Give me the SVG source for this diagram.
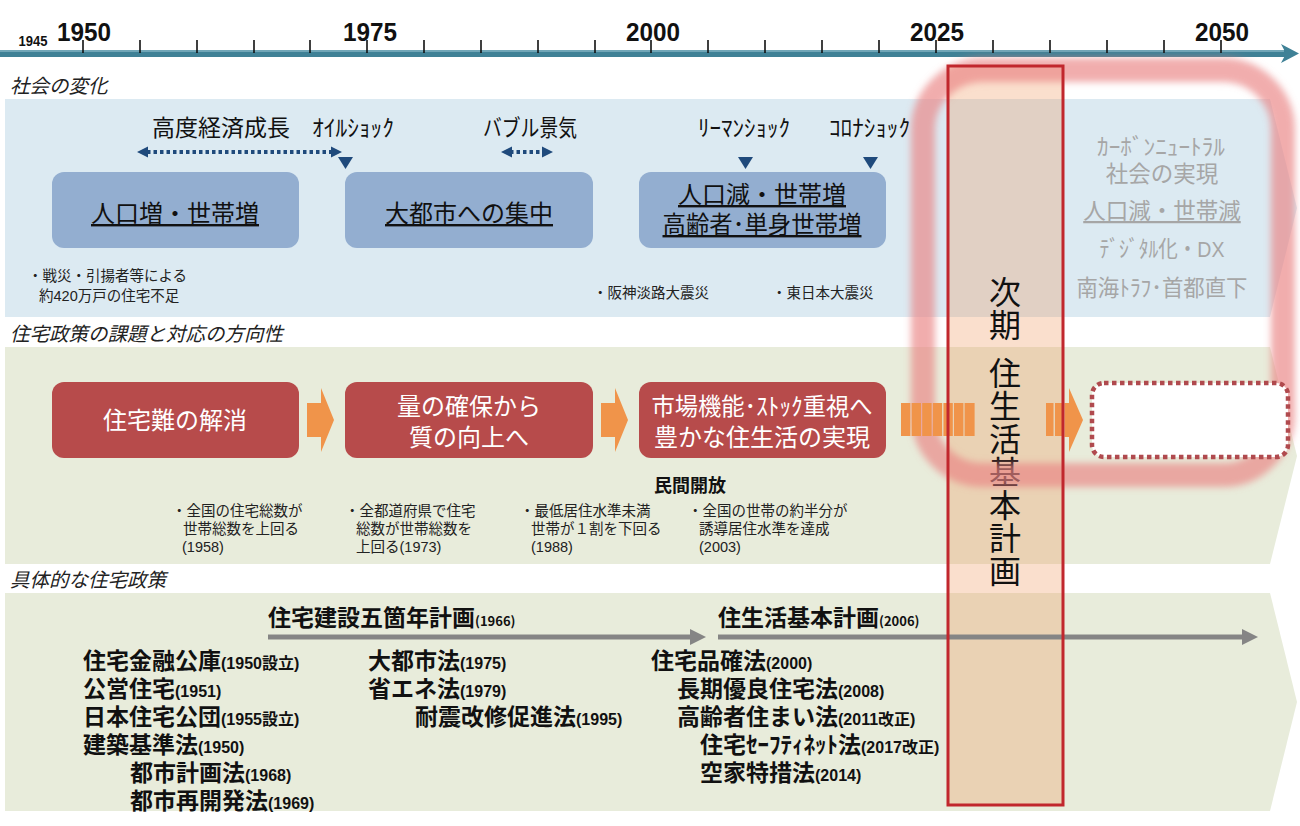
<svg xmlns="http://www.w3.org/2000/svg" width="1300" height="826" viewBox="0 0 1300 826">
<defs>
<style>
.jp{font-family:'Noto Sans CJK JP','Noto Sans',sans-serif;}
.lj{font-family:'Liberation Sans','Noto Sans CJK JP',sans-serif;}
.yr{font-family:'Liberation Sans',Arial,sans-serif;font-weight:700;fill:#111;text-anchor:middle;}
.sec{font-size:19.5px;font-style:italic;fill:#222;}
.boxb{fill:#93aed0;}
.boxr{fill:#b74b4b;}
.bt{font-size:24px;fill:#111;text-anchor:middle;text-decoration:underline;}
.wt{font-size:24px;fill:#fff;text-anchor:middle;}
.ev{font-size:23px;fill:#111;}
.note{font-size:14.5px;fill:#222;}
.fut{font-size:22.5px;fill:#a6a6a6;text-anchor:middle;}
.pol{font-size:23px;font-weight:700;fill:#111;}
.ys{font-size:16px;}
.vt{font-size:32px;fill:#111;writing-mode:vertical-rl;letter-spacing:1px;}
.navy{fill:#1f4a7c;}
.or{fill:#f0944a;}
.gray{fill:#858585;}
</style>
<filter id="blur" x="-10%" y="-10%" width="120%" height="120%"><feGaussianBlur stdDeviation="3.5"/></filter>
</defs>
<rect x="0" y="0" width="1300" height="826" fill="#ffffff"/>

<g id="axis">
<rect x="0" y="50" width="1286" height="7" fill="#3f8196"/>
<line x1="0" y1="51" x2="1284" y2="51" stroke="#a4cbd8" stroke-width="1.2"/>
<path d="M1281,44 L1299,53.5 L1281,63 L1286,53.5 Z" fill="#3f8196"/>
<path d="M83,40V53 M140,40V53 M197,40V53 M254,40V53 M310,40V53 M367,40V53 M424,40V53 M481,40V53 M538,40V53 M595,40V53 M651,40V53 M708,40V53 M765,40V53 M822,40V53 M879,40V53 M936,40V53 M993,40V53 M1050,40V53 M1107,40V53 M1164,40V53 M1221,40V53" stroke="#111" stroke-width="1.6" fill="none"/>
<text class="yr" x="33" y="46" font-size="14.5" textLength="29" lengthAdjust="spacingAndGlyphs">1945</text>
<text class="yr" x="84" y="41" font-size="26" textLength="54" lengthAdjust="spacingAndGlyphs">1950</text>
<text class="yr" x="370" y="41" font-size="26" textLength="54" lengthAdjust="spacingAndGlyphs">1975</text>
<text class="yr" x="653" y="41" font-size="26" textLength="54" lengthAdjust="spacingAndGlyphs">2000</text>
<text class="yr" x="937" y="41" font-size="26" textLength="54" lengthAdjust="spacingAndGlyphs">2025</text>
<text class="yr" x="1222" y="41" font-size="26" textLength="54" lengthAdjust="spacingAndGlyphs">2050</text>
</g>

<g id="bands">
<polygon points="5,99 1270,99 1297,208 1270,317 5,317" fill="#dceaf2"/>
<polygon points="5,347 1270,347 1297,456 1270,564 5,564" fill="#e8ecdb"/>
<polygon points="5,593 1270,593 1297,702 1270,811 5,811" fill="#e8ecdb"/>
<text class="jp sec" x="10" y="93">社会の変化</text>
<text class="jp sec" x="10" y="341">住宅政策の課題と対応の方向性</text>
<text class="jp sec" x="10" y="587">具体的な住宅政策</text>
</g>

<g id="next-plan-fill">
<rect x="948" y="66" width="115" height="739" fill="rgb(240,150,90)" fill-opacity="0.3"/>
<text class="jp vt" x="1005" y="276">次期</text>
<text class="jp vt" x="1005" y="357">住生活基本計画</text>
</g>

<g id="focus-glow">
<rect x="923" y="70" width="360" height="405" rx="60" fill="none" stroke="#e98282" stroke-opacity="0.66" stroke-width="24" filter="url(#blur)"/>
</g>

<g id="social">
<text class="jp ev" x="152" y="136">高度経済成長</text>
<text class="jp ev" x="312" y="136" textLength="82" lengthAdjust="spacingAndGlyphs">ｵｲﾙｼｮｯｸ</text>
<text class="jp ev" x="483" y="136" textLength="94" lengthAdjust="spacingAndGlyphs">バブル景気</text>
<text class="jp ev" x="698" y="136" textLength="92" lengthAdjust="spacingAndGlyphs">ﾘｰﾏﾝｼｮｯｸ</text>
<text class="jp ev" x="829" y="136" textLength="81" lengthAdjust="spacingAndGlyphs">ｺﾛﾅｼｮｯｸ</text>
<polygon class="navy" points="338,157 353,157 345.5,169"/>
<polygon class="navy" points="738,157 753,157 745.5,169"/>
<polygon class="navy" points="863,157 878,157 870.5,169"/>
</g>

<g id="node-pop-increase">
<rect class="boxb" x="52" y="172" width="247" height="76" rx="12"/>
<text class="jp bt" x="175" y="222">人口増・世帯増</text>
</g>
<g id="node-city-concentration">
<rect class="boxb" x="345" y="172" width="248" height="76" rx="12"/>
<text class="jp bt" x="469" y="222">大都市への集中</text>
</g>
<g id="node-pop-decrease">
<rect class="boxb" x="639" y="172" width="247" height="76" rx="12"/>
<text class="lj bt" x="762" y="203">人口減・世帯増</text>
<text class="lj bt" x="762" y="233" textLength="199" lengthAdjust="spacingAndGlyphs">高齢者･単身世帯増</text>
</g>

<g id="social-notes">
<text class="lj note" x="28" y="281">・戦災・引揚者等による</text>
<text class="lj note" x="39" y="301">約420万戸の住宅不足</text>
<text class="jp note" x="593" y="298" font-size="15">・阪神淡路大震災</text>
<text class="jp note" x="772" y="298" font-size="15">・東日本大震災</text>
</g>

<g id="future-social">
<text class="lj fut" x="1161" y="155" textLength="128" lengthAdjust="spacingAndGlyphs">ｶｰﾎﾞﾝﾆｭｰﾄﾗﾙ</text>
<text class="lj fut" x="1162" y="182">社会の実現</text>
<text class="lj fut" x="1162" y="219" text-decoration="underline">人口減・世帯減</text>
<text class="lj fut" x="1162" y="257" textLength="125" lengthAdjust="spacingAndGlyphs">ﾃﾞｼﾞﾀﾙ化・DX</text>
<text class="lj fut" x="1162" y="296" textLength="171" lengthAdjust="spacingAndGlyphs">南海ﾄﾗﾌ･首都直下</text>
</g>

<g id="node-housing-shortage">
<rect class="boxr" x="52" y="382" width="247" height="76" rx="12"/>
<text class="jp wt" x="175" y="429">住宅難の解消</text>
</g>
<g id="node-quality">
<rect class="boxr" x="345" y="382" width="248" height="76" rx="12"/>
<text class="lj wt" x="469" y="415">量の確保から</text>
<text class="lj wt" x="469" y="446">質の向上へ</text>
</g>
<g id="node-market">
<rect class="boxr" x="639" y="382" width="247" height="76" rx="12"/>
<text class="lj wt" x="762" y="415" textLength="221" lengthAdjust="spacingAndGlyphs">市場機能･ｽﾄｯｸ重視へ</text>
<text class="lj wt" x="762" y="446">豊かな住生活の実現</text>
</g>
<g id="node-next">
<rect x="1092" y="383" width="196" height="74" rx="12" fill="#ffffff" stroke="#b04a4e" stroke-width="4.5" stroke-dasharray="4.5 3.5"/>
</g>

<g id="policy-notes">
<text class="jp" x="690" y="492" font-size="18" font-weight="700" fill="#111" text-anchor="middle">民間開放</text>
<text class="lj note"><tspan x="172" y="516">・全国の住宅総数が</tspan><tspan x="183" y="534">世帯総数を上回る</tspan><tspan x="182" y="552">(1958)</tspan></text>
<text class="lj note"><tspan x="345" y="516">・全都道府県で住宅</tspan><tspan x="356" y="534">総数が世帯総数を</tspan><tspan x="356" y="552">上回る(1973)</tspan></text>
<text class="lj note"><tspan x="520" y="516">・最低居住水準未満</tspan><tspan x="531" y="534">世帯が１割を下回る</tspan><tspan x="531" y="552">(1988)</tspan></text>
<text class="lj note"><tspan x="688" y="516">・全国の世帯の約半分が</tspan><tspan x="699" y="534">誘導居住水準を達成</tspan><tspan x="699" y="552">(2003)</tspan></text>
</g>

<g id="policies">
<text class="jp pol" x="268" y="626" font-size="21">住宅建設五箇年計画<tspan font-size="13">(1966)</tspan></text>
<text class="jp pol" x="718" y="626" font-size="21">住生活基本計画<tspan font-size="13">(2006)</tspan></text>
<text class="lj pol" x="83" y="669">住宅金融公庫<tspan class="ys">(1950設立)</tspan></text>
<text class="lj pol" x="83" y="697">公営住宅<tspan class="ys">(1951)</tspan></text>
<text class="lj pol" x="83" y="725">日本住宅公団<tspan class="ys">(1955設立)</tspan></text>
<text class="lj pol" x="83" y="753">建築基準法<tspan class="ys">(1950)</tspan></text>
<text class="lj pol" x="130" y="781">都市計画法<tspan class="ys">(1968)</tspan></text>
<text class="lj pol" x="130" y="809">都市再開発法<tspan class="ys">(1969)</tspan></text>
<text class="lj pol" x="368" y="669">大都市法<tspan class="ys">(1975)</tspan></text>
<text class="lj pol" x="368" y="697">省エネ法<tspan class="ys">(1979)</tspan></text>
<text class="lj pol" x="415" y="725">耐震改修促進法<tspan class="ys">(1995)</tspan></text>
<text class="lj pol" x="651" y="669">住宅品確法<tspan class="ys">(2000)</tspan></text>
<text class="lj pol" x="677" y="697">長期優良住宅法<tspan class="ys">(2008)</tspan></text>
<text class="lj pol" x="677" y="725">高齢者住まい法<tspan class="ys">(2011改正)</tspan></text>
<text class="lj pol" x="700" y="753">住宅ｾｰﾌﾃｨﾈｯﾄ法<tspan class="ys">(2017改正)</tspan></text>
<text class="lj pol" x="700" y="781">空家特措法<tspan class="ys">(2014)</tspan></text>
</g>

<g id="connectors">
<line x1="147" y1="152" x2="332" y2="152" stroke="#1f4a7c" stroke-width="4" stroke-dasharray="3.5 3"/>
<polygon class="navy" points="137,152 148,146.5 148,157.5"/>
<polygon class="navy" points="342,152 331,146.5 331,157.5"/>
<line x1="510" y1="152" x2="544" y2="152" stroke="#1f4a7c" stroke-width="4" stroke-dasharray="3.5 3"/>
<polygon class="navy" points="501,152 512,146.5 512,157.5"/>
<polygon class="navy" points="553,152 542,146.5 542,157.5"/>
<path class="or" d="M307,403 H321 V388 L334,420 L321,452 V437 H307 Z"/>
<path class="or" d="M601,403 H615 V388 L628,420 L615,452 V437 H601 Z"/>
<g class="or">
<rect x="901" y="403" width="9.4" height="33"/>
<rect x="911.6" y="403" width="9.4" height="33"/>
<rect x="922.2" y="403" width="9.4" height="33"/>
<rect x="932.8" y="403" width="9.4" height="33"/>
<rect x="943.4" y="403" width="9.4" height="33"/>
<rect x="954" y="403" width="9.4" height="33"/>
<rect x="964.6" y="403" width="10" height="33"/>
<rect x="1046" y="403" width="7.5" height="33"/>
<rect x="1055" y="403" width="8" height="33"/>
<path d="M1064.5,403 H1069 V388 L1083,420 L1069,452 V437 H1064.5 Z"/>
</g>
<line x1="268" y1="637" x2="692" y2="637" stroke="#858585" stroke-width="5"/>
<polygon class="gray" points="690,629 706,637 690,645"/>
<line x1="718" y1="637" x2="1244" y2="637" stroke="#858585" stroke-width="5"/>
<polygon class="gray" points="1242,629 1258,637 1242,645"/>
</g>

<g id="next-plan-frame">
<rect x="948" y="66" width="115" height="739" fill="none" stroke="#c1272d" stroke-width="3"/>
</g>
</svg>
